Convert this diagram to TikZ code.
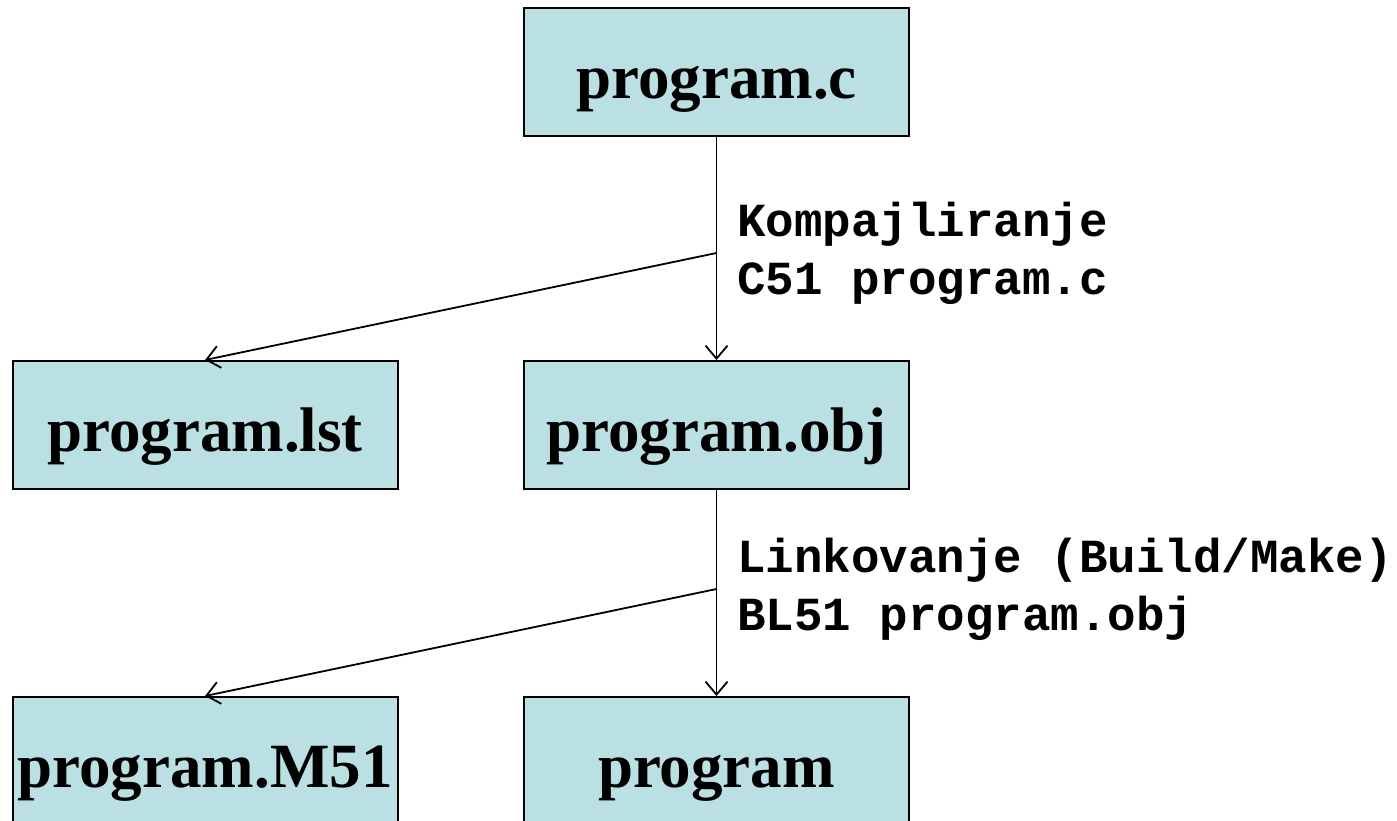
\documentclass[tikz,border=0pt]{standalone}
\usepackage{fontspec}
\setmainfont{Liberation Serif}
\newfontfamily\monofnt{Liberation Mono}
\usetikzlibrary{arrows.meta}
\definecolor{boxfill}{HTML}{BBE0E3}
\begin{document}
\begin{tikzpicture}[x=1pt,y=-1pt,
  filebox/.style={draw=black,fill=boxfill,line width=2pt,minimum width=385pt,minimum height=128pt,
    inner sep=0pt,text height=52pt,text depth=0pt,font=\bfseries\fontsize{63}{63}\selectfont},
  conn/.style={line width=1.8pt,-{Straight Barb[length=13pt,width=22pt,line width=1.8pt]}},
  lbl/.style={anchor=base west,align=left,inner sep=0pt,font=\monofnt\bfseries\fontsize{47.5}{58}\selectfont}]
\useasboundingbox (0,0) rectangle (1397,821);
\node[filebox] (c)   at (716.5,72.5) {program.c};
\node[filebox] (lst) at (205,425) {program.lst};
\node[filebox] (obj) at (716.5,425) {program.obj};
\node[filebox] (m51) at (205,761) {program.M51};
\node[filebox] (prg) at (716.5,761) {program};
\coordinate (k1) at (716.5,253);
\coordinate (k2) at (716.5,589);
\draw[conn] (c.south) -- (obj.north);
\draw[conn] (k1) -- (lst.north);
\draw[conn] (obj.south) -- (prg.north);
\draw[conn] (k2) -- (m51.north);
\node[lbl] (l1) at (737,294) {Kompajliranje\\C51 program.c};
\node[lbl] (l2) at (737,630) {Linkovanje (Build/Make)\\BL51 program.obj};
\end{tikzpicture}
\end{document}
